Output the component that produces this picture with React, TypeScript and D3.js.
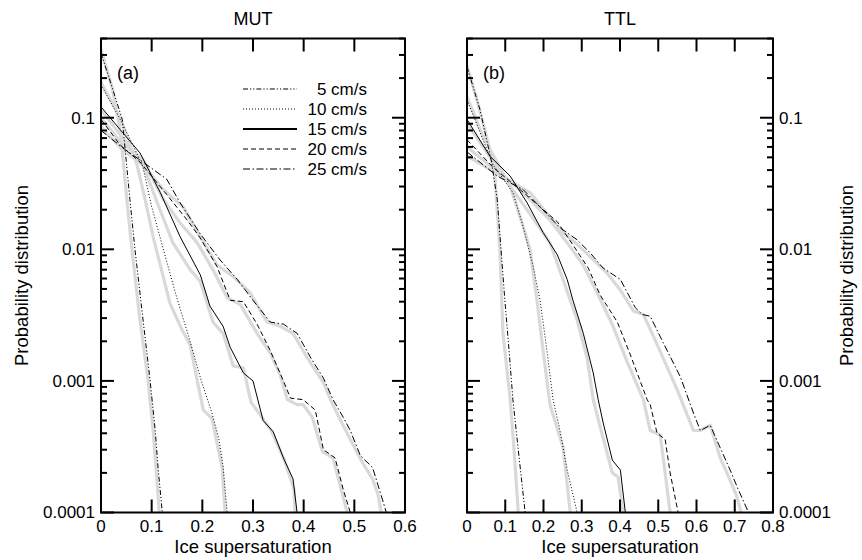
import React from 'react';
import * as d3 from 'd3';

type Pt = [number, number];

// ---------- labels / ticks ----------
const speedLabels = ['5 cm/s', '10 cm/s', '15 cm/s', '20 cm/s', '25 cm/s'];
const mutXTicks = [0, 0.1, 0.2, 0.3, 0.4, 0.5, 0.6];
const ttlXTicks = [0, 0.1, 0.2, 0.3, 0.4, 0.5, 0.6, 0.7, 0.8];
const yLabelTicks = [0.0001, 0.001, 0.01, 0.1];

// ---------- MUT (a): black curves ----------
const mutB5: Pt[] = [[0,0.31],[0.022,0.17],[0.042,0.097],[0.057,0.024],[0.067,0.010],[0.083,0.0029],[0.097,0.0010],[0.107,0.00042],[0.113,0.00021],[0.121,0.0001]];
const mutB10: Pt[] = [[0,0.178],[0.038,0.097],[0.063,0.062],[0.083,0.042],[0.099,0.0218],[0.123,0.010],[0.148,0.0045],[0.172,0.00224],[0.198,0.0010],[0.219,0.00057],[0.233,0.000356],[0.241,0.000222],[0.249,0.0001]];
const mutB15: Pt[] = [[0,0.121],[0.038,0.081],[0.077,0.054],[0.117,0.027],[0.156,0.0125],[0.196,0.0064],[0.215,0.0037],[0.241,0.0026],[0.255,0.0018],[0.281,0.00115],[0.300,0.0010],[0.320,0.00050],[0.340,0.00041],[0.360,0.00026],[0.379,0.00018],[0.387,0.0001]];
const mutB20: Pt[] = [[0,0.097],[0.038,0.062],[0.077,0.046],[0.130,0.026],[0.170,0.0167],[0.196,0.0122],[0.229,0.0074],[0.255,0.0041],[0.281,0.0040],[0.308,0.0027],[0.334,0.0017],[0.360,0.0010],[0.374,0.00074],[0.399,0.00072],[0.423,0.00060],[0.439,0.00030],[0.462,0.00026],[0.478,0.00015],[0.492,0.0001]];
const mutB25: Pt[] = [[0,0.080],[0.043,0.059],[0.083,0.046],[0.130,0.034],[0.156,0.0226],[0.196,0.0131],[0.235,0.0083],[0.269,0.0059],[0.300,0.0041],[0.334,0.0028],[0.360,0.0027],[0.387,0.0023],[0.413,0.00152],[0.439,0.00105],[0.458,0.00072],[0.478,0.00053],[0.492,0.00042],[0.512,0.00027],[0.536,0.00022],[0.547,0.00016],[0.557,0.00012],[0.563,0.0001]];

// ---------- MUT (a): gray curves ----------
const mutG5: Pt[] = [[0,0.33],[0.022,0.169],[0.038,0.080],[0.051,0.024],[0.061,0.010],[0.077,0.0029],[0.093,0.0010],[0.103,0.00042],[0.109,0.00021],[0.115,0.0001]];
const mutG10: Pt[] = [[0,0.185],[0.038,0.10],[0.071,0.044],[0.087,0.024],[0.103,0.0124],[0.136,0.0039],[0.160,0.00244],[0.176,0.00188],[0.190,0.0010],[0.202,0.00060],[0.219,0.00052],[0.239,0.00022],[0.245,0.0001]];
const mutG15: Pt[] = [[0,0.115],[0.083,0.044],[0.111,0.0226],[0.142,0.0112],[0.176,0.0070],[0.196,0.0057],[0.221,0.0028],[0.241,0.0023],[0.261,0.0013],[0.281,0.00126],[0.296,0.00069],[0.336,0.00042],[0.362,0.00025],[0.381,0.00015],[0.383,0.0001]];
const mutG20: Pt[] = [[0,0.10],[0.038,0.066],[0.083,0.048],[0.123,0.024],[0.156,0.0159],[0.190,0.0112],[0.221,0.0070],[0.249,0.0043],[0.275,0.0038],[0.308,0.0023],[0.334,0.00163],[0.354,0.0011],[0.368,0.00072],[0.387,0.00066],[0.399,0.00066],[0.417,0.00053],[0.437,0.00029],[0.458,0.00026],[0.476,0.00014],[0.486,0.0001]];
const mutG25: Pt[] = [[0,0.085],[0.043,0.057],[0.083,0.044],[0.123,0.0284],[0.162,0.021],[0.196,0.0124],[0.229,0.0076],[0.261,0.0062],[0.294,0.0047],[0.328,0.0028],[0.354,0.0026],[0.379,0.0023],[0.407,0.0015],[0.439,0.00097],[0.453,0.00072],[0.472,0.00051],[0.492,0.00036],[0.516,0.00024],[0.536,0.00018],[0.547,0.000136],[0.553,0.0001]];

// ---------- TTL (b): black curves ----------
const ttlB5: Pt[] = [[0,0.244],[0.034,0.115],[0.063,0.048],[0.079,0.024],[0.089,0.0099],[0.099,0.0041],[0.110,0.0017],[0.120,0.00072],[0.134,0.00030],[0.152,0.0001]];
const ttlB10: Pt[] = [[0,0.137],[0.016,0.105],[0.068,0.044],[0.120,0.027],[0.147,0.0148],[0.173,0.0074],[0.191,0.0041],[0.209,0.0017],[0.225,0.00072],[0.243,0.00042],[0.262,0.00021],[0.288,0.0001]];
const ttlB15: Pt[] = [[0,0.097],[0.060,0.051],[0.113,0.036],[0.157,0.0226],[0.199,0.0134],[0.236,0.0091],[0.262,0.0059],[0.277,0.0041],[0.304,0.0023],[0.330,0.00115],[0.343,0.00072],[0.356,0.00048],[0.380,0.00025],[0.401,0.00021],[0.414,0.0001]];
const ttlB20: Pt[] = [[0,0.068],[0.068,0.042],[0.139,0.0284],[0.191,0.021],[0.236,0.0162],[0.277,0.0108],[0.317,0.0072],[0.348,0.0045],[0.393,0.0028],[0.427,0.00158],[0.471,0.00072],[0.479,0.00066],[0.497,0.00040],[0.518,0.00036],[0.531,0.00020],[0.552,0.0001]];
const ttlB25: Pt[] = [[0,0.055],[0.079,0.036],[0.147,0.0284],[0.191,0.021],[0.243,0.0146],[0.288,0.0118],[0.322,0.0094],[0.356,0.0072],[0.401,0.0059],[0.440,0.0036],[0.458,0.0032],[0.479,0.0031],[0.513,0.00195],[0.558,0.00107],[0.592,0.00057],[0.610,0.00042],[0.636,0.00046],[0.662,0.00031],[0.688,0.00021],[0.709,0.00015],[0.736,0.0001]];

// ---------- TTL (b): gray curves ----------
const ttlG5: Pt[] = [[0,0.25],[0.026,0.137],[0.060,0.057],[0.073,0.036],[0.086,0.0099],[0.094,0.0023],[0.113,0.00072],[0.123,0.00030],[0.134,0.0001]];
const ttlG10: Pt[] = [[0,0.144],[0.042,0.072],[0.113,0.030],[0.139,0.0177],[0.165,0.0099],[0.183,0.0041],[0.199,0.0017],[0.217,0.00066],[0.251,0.000315],[0.270,0.0001]];
const ttlG15: Pt[] = [[0,0.091],[0.094,0.036],[0.157,0.020],[0.217,0.0112],[0.251,0.0059],[0.270,0.0041],[0.288,0.0029],[0.314,0.0015],[0.330,0.00072],[0.348,0.00045],[0.380,0.00020],[0.395,0.000186],[0.408,0.0001]];
const ttlG20: Pt[] = [[0,0.060],[0.139,0.0284],[0.217,0.0167],[0.262,0.0112],[0.304,0.0076],[0.340,0.0047],[0.382,0.0026],[0.419,0.00139],[0.461,0.00072],[0.479,0.00042],[0.505,0.00039],[0.518,0.00020],[0.531,0.0001]];
const ttlG25: Pt[] = [[0,0.051],[0.165,0.027],[0.243,0.0141],[0.296,0.0104],[0.366,0.0066],[0.401,0.0049],[0.435,0.0034],[0.461,0.0032],[0.487,0.0022],[0.550,0.00085],[0.592,0.00042],[0.610,0.00042],[0.636,0.00046],[0.662,0.00026],[0.683,0.00019],[0.704,0.000136],[0.717,0.0001]];

const dashStyles = ['5,2,1.2,2,1.2,2', '1,2', '', '5,3', '7,2.5,1.5,2.5'];
const FONT = '"Liberation Sans", Arial, Helvetica, sans-serif';

const W = 862, H = 560;
const yTop = 38.5, yBot = 512.5;

interface PanelDef {
  id: string; title: string; tag: string; x0: number; x1: number; xMax: number;
  xTicks: number[]; black: Pt[][]; gray: Pt[][]; labelsRight: boolean; legend: boolean;
}

const panels: PanelDef[] = [
  { id: 'mut', title: 'MUT', tag: '(a)', x0: 101, x1: 405, xMax: 0.6, xTicks: mutXTicks,
    black: [mutB5, mutB10, mutB15, mutB20, mutB25], gray: [mutG5, mutG10, mutG15, mutG20, mutG25], labelsRight: false, legend: true },
  { id: 'ttl', title: 'TTL', tag: '(b)', x0: 467, x1: 773, xMax: 0.8, xTicks: ttlXTicks,
    black: [ttlB5, ttlB10, ttlB15, ttlB20, ttlB25], gray: [ttlG5, ttlG10, ttlG15, ttlG20, ttlG25], labelsRight: true, legend: false },
];

const isPow10 = (v: number) => Math.abs(Math.log10(v) - Math.round(Math.log10(v))) < 1e-9;

function Panel({ p }: { p: PanelDef }) {
  const x = d3.scaleLinear().domain([0, p.xMax]).range([p.x0, p.x1]);
  const y = d3.scaleLog().domain([1e-4, 0.4]).range([yBot, yTop]);
  const line = d3.line<Pt>().x(d => x(d[0])).y(d => y(d[1]));
  const yTicks = y.ticks().filter(v => v <= 0.4 + 1e-12);
  const cx = (p.x0 + p.x1) / 2;
  const majorLen = 13, minorLen = 6;
  return (
    <g>
      <defs>
        <clipPath id={`clip-${p.id}`}>
          <rect x={p.x0} y={yTop} width={p.x1 - p.x0} height={yBot - yTop} />
        </clipPath>
      </defs>
      <g clipPath={`url(#clip-${p.id})`}>
        {p.gray.map((d, i) => (
          <path key={'g' + i} d={line(d) || ''} fill="none" stroke="#d9d9d9" strokeWidth={3.2} strokeLinejoin="round" />
        ))}
        {p.black.map((d, i) => (
          <path key={'b' + i} d={line(d) || ''} fill="none" stroke="#000" strokeWidth={1}
            strokeDasharray={dashStyles[i] || undefined} />
        ))}
      </g>
      {yTicks.map((v, i) => {
        const len = isPow10(v) ? majorLen : minorLen;
        const yy = y(v);
        return (
          <g key={'yt' + i}>
            <line x1={p.x0} x2={p.x0 + len} y1={yy} y2={yy} stroke="#000" strokeWidth={2} />
            <line x1={p.x1} x2={p.x1 - len} y1={yy} y2={yy} stroke="#000" strokeWidth={2} />
          </g>
        );
      })}
      {p.xTicks.map((v, i) => (
        <g key={'xt' + i}>
          <line x1={x(v)} x2={x(v)} y1={yBot} y2={yBot - majorLen} stroke="#000" strokeWidth={2} />
          <line x1={x(v)} x2={x(v)} y1={yTop} y2={yTop + majorLen} stroke="#000" strokeWidth={2} />
          <text x={x(v)} y={532} textAnchor="middle" fontSize={17} fontFamily={FONT}>{String(+v.toFixed(1))}</text>
        </g>
      ))}
      {yLabelTicks.map((v, i) => (
        p.labelsRight ? (
          <text key={'yl' + i} x={p.x1 + 6} y={y(v)} dy="0.35em" textAnchor="start" fontSize={17} fontFamily={FONT}>{String(v)}</text>
        ) : (
          <text key={'yl' + i} x={p.x0 - 6} y={y(v)} dy="0.35em" textAnchor="end" fontSize={17} fontFamily={FONT}>{String(v)}</text>
        )
      ))}
      <rect x={p.x0} y={yTop} width={p.x1 - p.x0} height={yBot - yTop} fill="none" stroke="#000" strokeWidth={2} />
      <text x={cx} y={25} textAnchor="middle" fontSize={18} fontFamily={FONT}>{p.title}</text>
      <text x={cx} y={553} textAnchor="middle" fontSize={18.5} fontFamily={FONT}>Ice supersaturation</text>
      <text x={p.x0 + 16} y={79} fontSize={18} fontFamily={FONT}>{p.tag}</text>
      {p.labelsRight ? (
        <text transform={`translate(853,${(yTop + yBot) / 2}) rotate(-90)`} textAnchor="middle" fontSize={18.5} fontFamily={FONT}>Probability distribution</text>
      ) : (
        <text transform={`translate(28,${(yTop + yBot) / 2}) rotate(-90)`} textAnchor="middle" fontSize={18.5} fontFamily={FONT}>Probability distribution</text>
      )}
      {p.legend && speedLabels.map((lab, i) => {
        const ly = 89 + i * 20;
        return (
          <g key={'lg' + i}>
            <line x1={243} x2={297} y1={ly} y2={ly} stroke="#000" strokeWidth={i === 2 ? 2 : 1}
              strokeDasharray={dashStyles[i] || undefined} />
            <text x={367} y={ly} dy="0.35em" textAnchor="end" fontSize={17} fontFamily={FONT}>{lab}</text>
          </g>
        );
      })}
    </g>
  );
}

export default function App() {
  return (
    <svg width={W} height={H} viewBox={`0 0 ${W} ${H}`}
      style={{ position: 'absolute', left: 0, top: 0, background: '#fff' }}>
      <rect x={0} y={0} width={W} height={H} fill="#fff" />
      {panels.map(p => <Panel key={p.id} p={p} />)}
    </svg>
  );
}
